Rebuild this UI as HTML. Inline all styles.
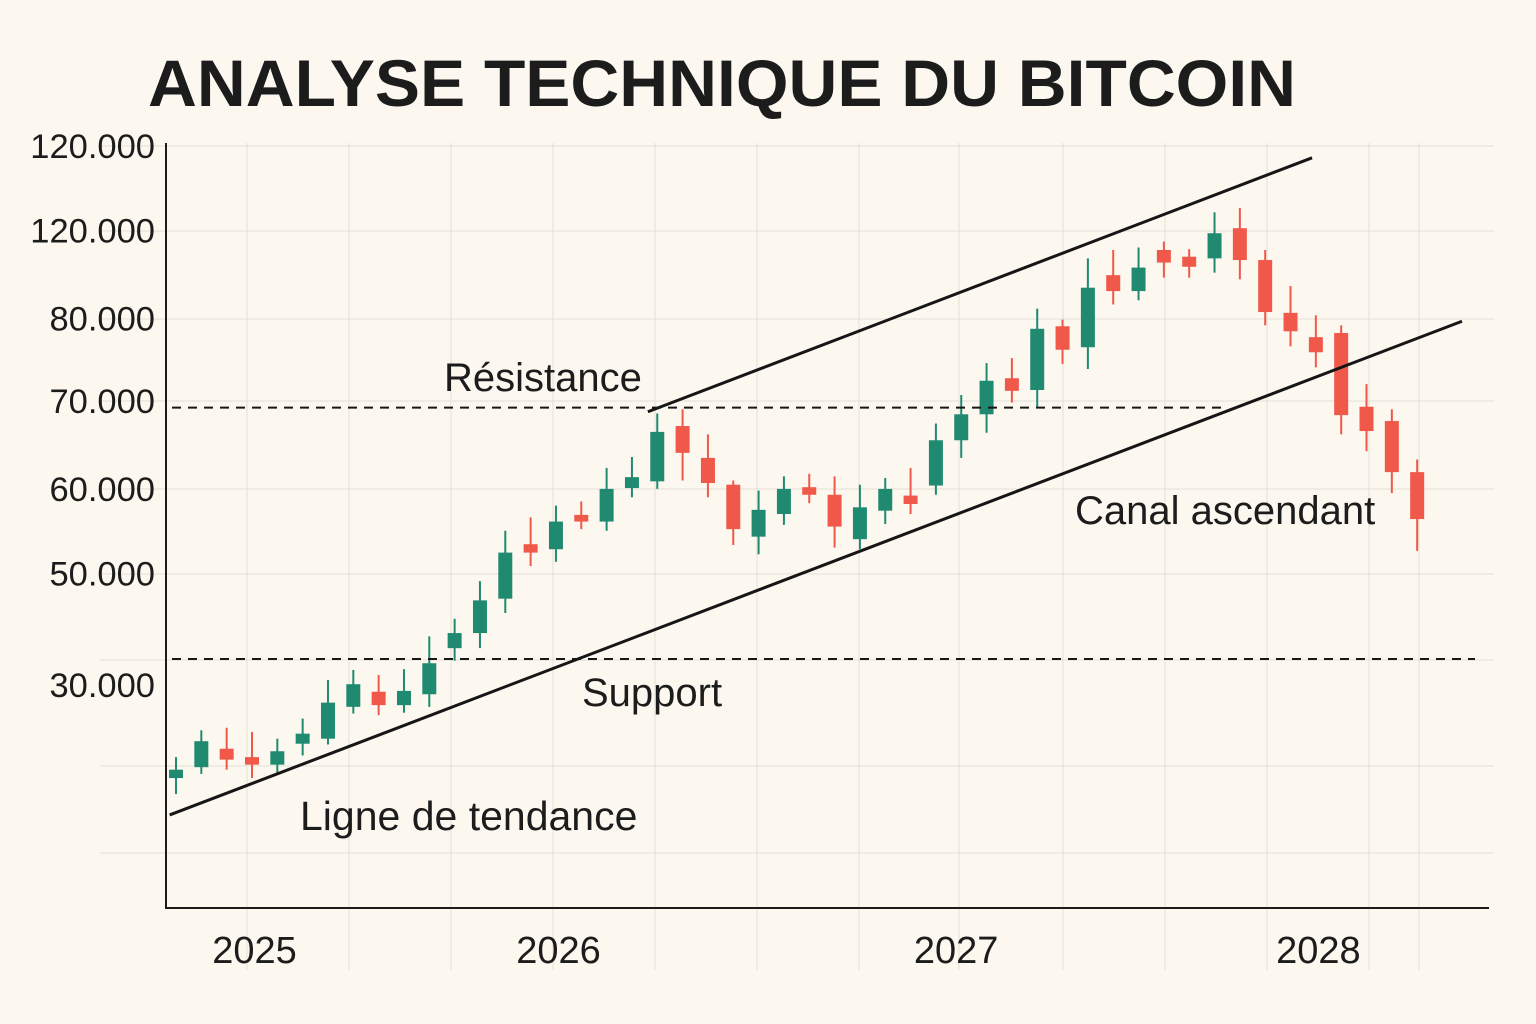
<!DOCTYPE html>
<html><head><meta charset="utf-8">
<style>
html,body{margin:0;padding:0;background:#fcf8f0;}
svg{display:block;font-family:"Liberation Sans",sans-serif;}
</style></head>
<body>
<svg id="chart" width="1536" height="1024" viewBox="0 0 1536 1024">
<rect width="1536" height="1024" fill="#fcf8f0"/>
<text x="148" y="106" font-size="66" font-weight="bold" fill="#1c1c1c" textLength="1148" lengthAdjust="spacingAndGlyphs">ANALYSE TECHNIQUE DU BITCOIN</text>
<g id="grid"></g>
<g id="axes"></g>
<g id="candles"></g>
<g id="lines"></g>
<text x="444" y="391" font-size="40" fill="#1c1c1c">Résistance</text>
<text x="582" y="706" font-size="40" fill="#1c1c1c">Support</text>
<text x="300" y="830" font-size="41" fill="#1c1c1c">Ligne de tendance</text>
<text x="1075" y="524" font-size="40" fill="#1c1c1c">Canal ascendant</text>
</svg>
<script>
// Data (prices in thousands)
const opens  = [25.5,26.8,29.0,28.0,27.1,29.6,30.2,34.0,35.8,34.2,35.5,41.0,42.8,46.9,53.4,52.8,56.9,56.1,60.1,60.9,67.5,63.7,60.5,54.3,57.0,60.2,59.3,54.0,57.4,59.2,60.4,65.8,68.9,73.2,71.8,79.4,76.9,85.5,83.6,88.5,87.7,87.5,91.1,87.3,81.0,78.1,78.6,69.8,68.1,62.0];
const closes = [26.5,29.9,27.7,27.1,28.7,30.8,34.5,36.7,34.2,35.9,39.2,42.8,46.7,52.4,52.4,56.1,56.1,60.0,61.4,66.8,64.3,60.7,55.2,57.5,60.0,59.3,55.5,57.8,60.0,58.2,65.8,68.9,72.9,71.7,79.1,76.6,84.0,83.6,86.4,87.0,86.5,90.5,87.3,81.1,78.8,76.3,68.8,66.9,62.0,56.4];
const highs  = [28.0,31.2,31.5,31.0,30.2,32.6,37.2,38.4,37.8,38.5,42.4,44.5,49.0,55.0,56.6,58.0,58.5,62.5,63.8,69.0,69.5,66.5,61.0,59.8,61.5,61.8,61.5,60.5,61.3,62.5,67.8,71.2,75.0,75.6,81.5,80.2,87.5,88.5,88.8,89.5,88.6,93.0,93.5,88.5,84.2,80.7,79.5,72.5,69.5,63.5];
const lows   = [23.6,26.0,26.5,25.5,26.0,28.2,29.5,33.2,33.0,33.3,34.0,39.5,41.0,45.2,50.8,51.3,55.2,55.0,59.0,60.0,61.0,59.0,53.3,52.2,55.7,58.3,53.0,52.8,55.8,57.0,59.3,63.7,66.7,70.3,69.6,74.9,74.3,82.0,82.5,85.2,85.2,85.8,85.0,79.5,77.0,74.5,66.5,64.5,59.5,52.6];
const yearLabels = ["2025","2026","2027","2028"];
const yearPositions = [3.1,15.1,30.8,45.1]; // candle-index units
const tickValues = [100.9,90.8,80.3,70.5,60.0,49.9,36.6];
const tickLabels = ["120.000","120.000","80.000","70.000","60.000","50.000","30.000"];
const resistanceLevel = 69.7;
const supportLevel = 39.7;
const trendStart = [-0.25,21.1], trendEnd = [50.77,80.0];
const channelStart = [18.63,69.2], channelEnd = [44.85,99.5];

const NS="http://www.w3.org/2000/svg";
function yS(v){return 908-(v-10)/0.1193;}
function xS(i){return 176+i*25.33;}
function mk(tag,attrs,parent){const e=document.createElementNS(NS,tag);for(const k in attrs)e.setAttribute(k,attrs[k]);parent.appendChild(e);return e;}
const grid=document.getElementById('grid'),axes=document.getElementById('axes'),cg=document.getElementById('candles'),lg=document.getElementById('lines');

[247,349,451,553,655,757,859,959,1063,1165,1267,1369,1419].forEach(x=>{
  const l=mk('line',{x1:x,x2:x,y1:143,y2:970,stroke:'#e4e0d8','stroke-width':1},grid);
  
  
});
[146,231,319,401,489,574,660,766,853].forEach(y=>{
  const l=mk('line',{x1:100,x2:1494,y1:y,y2:y,stroke:'#e4e0d8','stroke-width':1},grid);
  
  
});
const ya=mk('line',{x1:166,x2:166,y1:143,y2:909,stroke:'#1c1c1c','stroke-width':2},axes);


const xa=mk('line',{x1:165,x2:1489,y1:908,y2:908,stroke:'#1c1c1c','stroke-width':2},axes);


tickValues.forEach((v,i)=>{
  const t=mk('text',{x:155,y:yS(v)+12,'font-size':34.5,'text-anchor':'end',fill:'#1c1c1c'},axes);
  t.textContent=tickLabels[i];
  
  
});
yearLabels.forEach((s,i)=>{
  const t=mk('text',{x:xS(yearPositions[i]),y:963,'font-size':38,'text-anchor':'middle',fill:'#1c1c1c'},axes);
  t.textContent=s;
  
  
});
opens.forEach((o,i)=>{
  const c=closes[i],up=c>=o,col=up?'#1f8a70':'#f0584a',x=xS(i);
  const g=mk('g',{},cg);
  
  
  mk('line',{x1:x,x2:x,y1:yS(highs[i]),y2:yS(lows[i]),stroke:col,'stroke-width':2},g);
  const top=yS(Math.max(o,c)),bot=yS(Math.min(o,c));
  mk('rect',{x:x-7,y:top,width:14,height:Math.max(bot-top,3),fill:col},g);
});
function ln(x1,y1,x2,y2,dash,name){
  const l=mk('line',{x1:x1,y1:y1,x2:x2,y2:y2,stroke:'#161616','stroke-width':dash?2:3},lg);
  if(dash)l.setAttribute('stroke-dasharray','9 7');
  
  
}
ln(172,yS(resistanceLevel),1222,yS(resistanceLevel),true,'resistance-line');
ln(172,yS(supportLevel),1475,yS(supportLevel),true,'support-line');
ln(xS(trendStart[0]),yS(trendStart[1]),xS(trendEnd[0]),yS(trendEnd[1]),false,'trend-line');
ln(xS(channelStart[0]),yS(channelStart[1]),xS(channelEnd[0]),yS(channelEnd[1]),false,'channel-upper-line');
</script>
</body></html>
